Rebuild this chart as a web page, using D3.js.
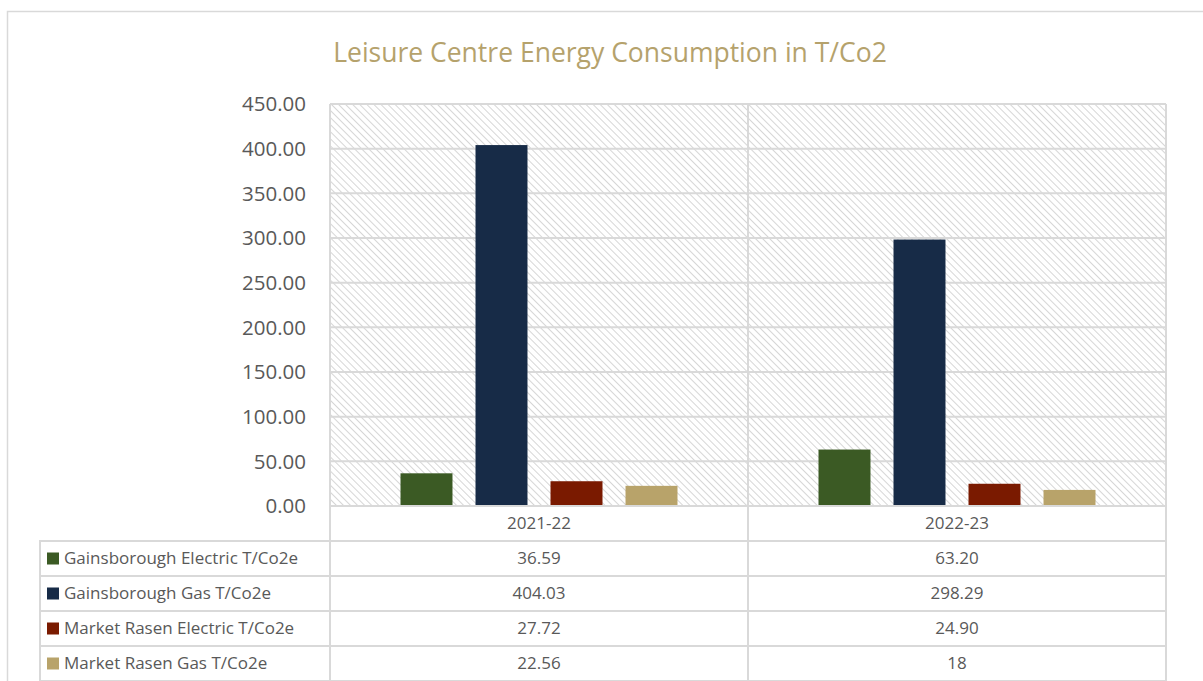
<!DOCTYPE html>
<meta charset='utf-8'>
<style>
  body { margin:0; background:#fff; }
  text { font-family:'Open Sans', 'Liberation Sans', sans-serif; }
  .grid line { stroke:#d9d9d9; stroke-width:2px; }
  .cell { stroke:#d9d9d9; stroke-width:2px; fill:none; }
</style>
<body>
<script src='https://d3js.org/d3.v7.min.js'></script>
<script>
  var categories = ['2021-22', '2022-23'];
  var series = ['Gainsborough Electric T/Co2e', 'Gainsborough Gas T/Co2e',
                'Market Rasen Electric T/Co2e', 'Market Rasen Gas T/Co2e'];
  var gainsElectric = [36.59, 63.20];
  var gainsGas = [404.03, 298.29];
  var rasenElectric = [27.72, 24.90];
  var rasenGas = [22.56, 18];
  var tableLabels = [['36.59', '63.20'], ['404.03', '298.29'], ['27.72', '24.90'], ['22.56', '18']];
  var yTicks = [0, 50, 100, 150, 200, 250, 300, 350, 400, 450];
  var colors = ['#3b5a24', '#172b47', '#7a1a00', '#b8a36a'];

  var values = [gainsElectric, gainsGas, rasenElectric, rasenGas];

  var width = 1203, height = 681;
  var plotLeft = 330, plotRight = 1166, plotTop = 104, plotBottom = 506;
  var rowH = 35, tableLeft = 40;

  var svg = d3.select('body').append('svg')
    .attr('width', width)
    .attr('height', height);

  // hatch pattern for plot background
  var pat = svg.append('defs').append('pattern')
    .attr('id', 'hatch')
    .attr('patternUnits', 'userSpaceOnUse')
    .attr('width', 5).attr('height', 5)
    .attr('patternTransform', 'rotate(-45)');
  pat.append('line')
    .attr('x1', 0).attr('y1', 0).attr('x2', 0).attr('y2', 5)
    .attr('stroke', '#d6d6d6').attr('stroke-width', 2);

  // outer chart border
  svg.append('path')
    .attr('d', 'M7.5,' + (height + 2) + 'V11.5H' + (width + 2))
    .attr('fill', 'none').attr('stroke', '#d9d9d9').attr('stroke-width', 1.5);

  svg.append('text')
    .attr('x', 610).attr('y', 62)
    .attr('text-anchor', 'middle')
    .attr('fill', '#b5a26c')
    .attr('font-size', 26.5)
    .text('Leisure Centre Energy Consumption in T/Co2');

  var x0 = d3.scaleBand().domain(categories).range([plotLeft, plotRight]);
  var x1 = d3.scaleBand().domain(d3.range(series.length))
    .range([0, x0.bandwidth()]).paddingInner(0.307).paddingOuter(0.94);
  var y = d3.scaleLinear().domain([0, 450]).range([plotBottom, plotTop]);

  svg.append('rect')
    .attr('x', plotLeft).attr('y', plotTop)
    .attr('width', plotRight - plotLeft).attr('height', plotBottom - plotTop)
    .attr('fill', 'url(#hatch)');

  svg.append('g').attr('class', 'grid')
    .selectAll('line').data(yTicks).join('line')
    .attr('x1', plotLeft).attr('x2', plotRight)
    .attr('y1', d => y(d)).attr('y2', d => y(d));

  // vertical lines through plot area and table
  svg.append('g').attr('class', 'grid')
    .selectAll('line').data([plotLeft, plotLeft + x0.step(), plotRight]).join('line')
    .attr('x1', d => d).attr('x2', d => d)
    .attr('y1', plotTop).attr('y2', plotBottom + rowH * 5);

  svg.append('g')
    .selectAll('text').data(yTicks).join('text')
    .attr('x', 306).attr('y', d => y(d))
    .attr('dy', '0.35em')
    .attr('text-anchor', 'end')
    .attr('fill', '#595959')
    .attr('font-size', 20.5)
    .text(d => d3.format('.2f')(d));

  var groups = svg.append('g').selectAll('g').data(categories).join('g')
    .attr('transform', d => 'translate(' + x0(d) + ',0)');
  groups.selectAll('rect')
    .data((c, ci) => values.map((v, si) => ({ si: si, v: v[ci] })))
    .join('rect')
    .attr('x', d => x1(d.si))
    .attr('width', x1.bandwidth())
    .attr('y', d => y(d.v))
    .attr('height', d => y(0) - y(d.v))
    .attr('fill', d => colors[d.si]);

  // axis line
  svg.append('line')
    .attr('x1', plotLeft).attr('x2', plotRight)
    .attr('y1', plotBottom).attr('y2', plotBottom)
    .attr('stroke', '#d9d9d9').attr('stroke-width', 2);

  // data table
  svg.append('g').selectAll('text').data(categories).join('text')
    .attr('x', d => x0(d) + x0.bandwidth() / 2)
    .attr('y', plotBottom + rowH / 2)
    .attr('dy', '0.35em').attr('text-anchor', 'middle')
    .attr('fill', '#595959').attr('font-size', 17)
    .text(d => d);

  var rows = svg.append('g').selectAll('g').data(series).join('g')
    .attr('transform', (d, i) => 'translate(0,' + (plotBottom + rowH * (i + 1)) + ')');
  rows.append('rect').attr('class', 'cell')
    .attr('x', tableLeft).attr('y', 0)
    .attr('width', plotRight - tableLeft).attr('height', rowH);
  rows.append('rect')
    .attr('x', 47).attr('y', rowH / 2 - 6)
    .attr('width', 12).attr('height', 12)
    .attr('fill', (d, i) => colors[i]);
  rows.append('text')
    .attr('x', 64).attr('y', rowH / 2)
    .attr('dy', '0.35em')
    .attr('fill', '#595959').attr('font-size', 17)
    .text(d => d);
  rows.each(function(d, i) {
    d3.select(this).selectAll('text.val').data(categories).join('text')
      .attr('class', 'val')
      .attr('x', c => x0(c) + x0.bandwidth() / 2)
      .attr('y', rowH / 2)
      .attr('dy', '0.35em').attr('text-anchor', 'middle')
      .attr('fill', '#595959').attr('font-size', 17)
      .text((c, ci) => tableLabels[i][ci]);
  });
</script>
</body>
